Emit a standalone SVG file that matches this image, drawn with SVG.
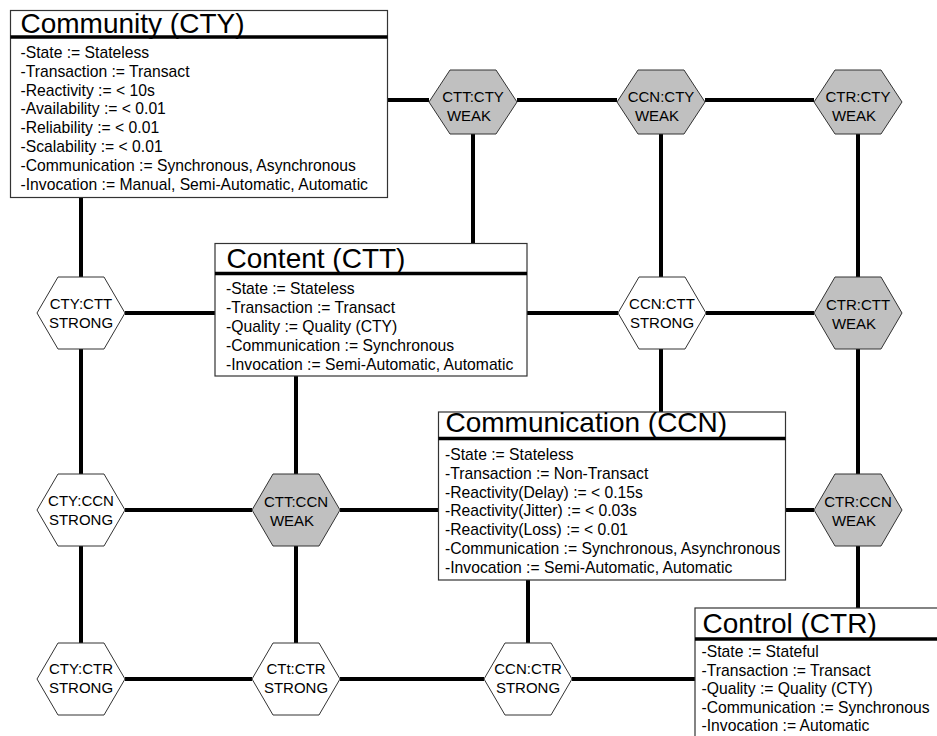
<svg xmlns="http://www.w3.org/2000/svg" width="937" height="736" viewBox="0 0 937 736">
<style>
.bg{fill:#ffffff}
.box{fill:#ffffff;stroke:#333333;stroke-width:1.2}
.sep{stroke:#000000;stroke-width:3.5}
.title{font-family:"Liberation Sans",Arial,sans-serif;font-size:28px;fill:#000000}
.body{font-family:"Liberation Sans",Arial,sans-serif;font-size:15.7px;fill:#000000}
.hw{fill:#ffffff;stroke:#333333;stroke-width:1}
.hg{fill:#c0c0c0;stroke:#333333;stroke-width:1}
.hl{font-family:"Liberation Sans",Arial,sans-serif;font-size:15px;fill:#000000;text-anchor:middle}
.conn line{stroke:#000000;stroke-width:4;stroke-linecap:butt}
</style>
<defs>
<polygon id="hex" points="-44,0 -23,-36 23,-36 44,0 23,36 -23,36"/>
<polygon id="hexT" points="-44,0 -23,-32 23,-32 44,0 23,32 -23,32"/>
</defs>
<rect class="bg" x="0" y="0" width="937" height="736"/>

<g id="connectors" class="conn">
<!-- top row -->
<line x1="387" y1="100" x2="429" y2="100"/>
<line x1="517" y1="100" x2="617" y2="100"/>
<line x1="705" y1="100" x2="814" y2="100"/>
<!-- row 2 -->
<line x1="125" y1="313" x2="215" y2="313"/>
<line x1="527" y1="313" x2="618" y2="313"/>
<line x1="706" y1="313" x2="814" y2="313"/>
<!-- row 3 -->
<line x1="125" y1="510" x2="252" y2="510"/>
<line x1="340" y1="510" x2="438" y2="510"/>
<line x1="785" y1="510" x2="814" y2="510"/>
<!-- row 4 -->
<line x1="125" y1="679" x2="252" y2="679"/>
<line x1="340" y1="679" x2="484" y2="679"/>
<line x1="572" y1="679" x2="695" y2="679"/>
<!-- column A -->
<line x1="81" y1="197" x2="81" y2="277"/>
<line x1="81" y1="349" x2="81" y2="474"/>
<line x1="81" y1="546" x2="81" y2="643"/>
<!-- column B -->
<line x1="296" y1="376" x2="296" y2="474"/>
<line x1="296" y1="546" x2="296" y2="643"/>
<!-- CTT:CTY to Content -->
<line x1="473" y1="134" x2="473" y2="243"/>
<!-- CCN column -->
<line x1="661" y1="134" x2="661" y2="277"/>
<line x1="661" y1="349" x2="661" y2="412"/>
<line x1="528" y1="580" x2="528" y2="643"/>
<!-- CTR column -->
<line x1="858" y1="134" x2="858" y2="277"/>
<line x1="858" y1="349" x2="858" y2="474"/>
<line x1="858" y1="546" x2="858" y2="608"/>
</g>

<g id="community">
<rect class="box" x="10.5" y="10.5" width="377" height="187"/>
<line class="sep" x1="10.5" y1="37" x2="387.5" y2="37"/>
<text class="title" x="20.5" y="32.5">Community (CTY)</text>
<text class="body" x="20.5" y="58">-State := Stateless</text>
<text class="body" x="20.5" y="76.8">-Transaction := Transact</text>
<text class="body" x="20.5" y="95.6">-Reactivity := &lt; 10s</text>
<text class="body" x="20.5" y="114.4">-Availability := &lt; 0.01</text>
<text class="body" x="20.5" y="133.2">-Reliability := &lt; 0.01</text>
<text class="body" x="20.5" y="152">-Scalability := &lt; 0.01</text>
<text class="body" x="20.5" y="170.8">-Communication := Synchronous, Asynchronous</text>
<text class="body" x="20.5" y="189.6">-Invocation := Manual, Semi-Automatic, Automatic</text>
</g>

<g id="content">
<rect class="box" x="215" y="243.5" width="312" height="132.5"/>
<line class="sep" x1="215" y1="273.5" x2="527" y2="273.5"/>
<text class="title" x="226.5" y="268">Content (CTT)</text>
<text class="body" x="226" y="294">-State := Stateless</text>
<text class="body" x="226" y="313">-Transaction := Transact</text>
<text class="body" x="226" y="332">-Quality := Quality (CTY)</text>
<text class="body" x="226" y="351">-Communication := Synchronous</text>
<text class="body" x="226" y="370">-Invocation := Semi-Automatic, Automatic</text>
</g>

<g id="communication">
<rect class="box" x="438.5" y="412" width="347" height="168"/>
<line class="sep" x1="438.5" y1="438.5" x2="785.5" y2="438.5"/>
<text class="title" x="445.5" y="432">Communication (CCN)</text>
<text class="body" x="445" y="460">-State := Stateless</text>
<text class="body" x="445" y="478.8">-Transaction := Non-Transact</text>
<text class="body" x="445" y="497.6">-Reactivity(Delay) := &lt; 0.15s</text>
<text class="body" x="445" y="516.4">-Reactivity(Jitter) := &lt; 0.03s</text>
<text class="body" x="445" y="535.2">-Reactivity(Loss) := &lt; 0.01</text>
<text class="body" x="445" y="554">-Communication := Synchronous, Asynchronous</text>
<text class="body" x="445" y="572.8">-Invocation := Semi-Automatic, Automatic</text>
</g>

<g id="control">
<rect class="box" x="695" y="608" width="260" height="140"/>
<line class="sep" x1="695" y1="639" x2="955" y2="639"/>
<text class="title" x="702.5" y="633">Control (CTR)</text>
<text class="body" x="701.5" y="657">-State := Stateful</text>
<text class="body" x="701.5" y="675.5">-Transaction := Transact</text>
<text class="body" x="701.5" y="694">-Quality := Quality (CTY)</text>
<text class="body" x="701.5" y="712.5">-Communication := Synchronous</text>
<text class="body" x="701.5" y="731">-Invocation := Automatic</text>
</g>

<g id="ctt-cty" transform="translate(473,102)">
<use href="#hexT" class="hg"/>
<text class="hl" x="0" y="0">CTT:CTY</text>
<text class="hl" x="-4" y="19">WEAK</text>
</g>
<g id="ccn-cty" transform="translate(661,102)">
<use href="#hexT" class="hg"/>
<text class="hl" x="0" y="0">CCN:CTY</text>
<text class="hl" x="-4" y="19">WEAK</text>
</g>
<g id="ctr-cty" transform="translate(858,102)">
<use href="#hexT" class="hg"/>
<text class="hl" x="0" y="0">CTR:CTY</text>
<text class="hl" x="-4" y="19">WEAK</text>
</g>

<g id="cty-ctt" transform="translate(81,313)">
<use href="#hex" class="hw"/>
<text class="hl" x="0" y="-4">CTY:CTT</text>
<text class="hl" x="0" y="15">STRONG</text>
</g>
<g id="ccn-ctt" transform="translate(662,313)">
<use href="#hex" class="hw"/>
<text class="hl" x="0" y="-4">CCN:CTT</text>
<text class="hl" x="0" y="15">STRONG</text>
</g>
<g id="ctr-ctt" transform="translate(858,313)">
<use href="#hex" class="hg"/>
<text class="hl" x="0" y="-3">CTR:CTT</text>
<text class="hl" x="-4" y="16">WEAK</text>
</g>

<g id="cty-ccn" transform="translate(81,510)">
<use href="#hex" class="hw"/>
<text class="hl" x="0" y="-4">CTY:CCN</text>
<text class="hl" x="0" y="15">STRONG</text>
</g>
<g id="ctt-ccn" transform="translate(296,510)">
<use href="#hex" class="hg"/>
<text class="hl" x="0" y="-3">CTT:CCN</text>
<text class="hl" x="-4" y="16">WEAK</text>
</g>
<g id="ctr-ccn" transform="translate(858,510)">
<use href="#hex" class="hg"/>
<text class="hl" x="0" y="-3">CTR:CCN</text>
<text class="hl" x="-4" y="16">WEAK</text>
</g>

<g id="cty-ctr" transform="translate(81,679)">
<use href="#hex" class="hw"/>
<text class="hl" x="0" y="-5">CTY:CTR</text>
<text class="hl" x="0" y="14">STRONG</text>
</g>
<g id="ctt-ctr" transform="translate(296,679)">
<use href="#hex" class="hw"/>
<text class="hl" x="0" y="-5">CTt:CTR</text>
<text class="hl" x="0" y="14">STRONG</text>
</g>
<g id="ccn-ctr" transform="translate(528,679)">
<use href="#hex" class="hw"/>
<text class="hl" x="0" y="-5">CCN:CTR</text>
<text class="hl" x="0" y="14">STRONG</text>
</g>
</svg>
